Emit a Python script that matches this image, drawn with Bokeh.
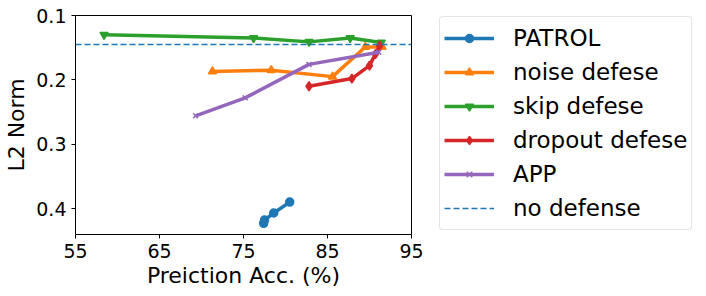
from bokeh.plotting import figure
from bokeh.models import Legend, LegendItem, FixedTicker, Range1d
from bokeh.layouts import row
from bokeh.embed import file_html
from bokeh.resources import INLINE

# Data
patrol_x = [77.4, 77.5, 78.6, 80.5]
patrol_y = [0.423, 0.418, 0.407, 0.390]

noise_x = [71.3, 78.3, 85.6, 89.5, 91.5]
noise_y = [0.187, 0.185, 0.195, 0.149, 0.149]

skip_x = [58.4, 76.2, 82.8, 87.7, 91.4]
skip_y = [0.130, 0.135, 0.141, 0.135, 0.142]

dropout_x = [82.8, 87.9, 90.0, 90.7, 91.2]
dropout_y = [0.210, 0.198, 0.178, 0.160, 0.147]

app_x = [69.3, 75.2, 82.8, 91.1]
app_y = [0.256, 0.228, 0.176, 0.157]

no_defense = 0.145

x_ticks = [55, 65, 75, 85, 95]
y_ticks = [0.1, 0.2, 0.3, 0.4]
x_min, x_max = 55, 95
y_min, y_max = 0.1, 0.4404

FONT = "DejaVu Sans"

p = figure(width=438, height=296, output_backend="svg", toolbar_location=None,
           x_range=Range1d(x_min, x_max), y_range=Range1d(y_max, y_min),
           min_border_left=75, min_border_right=27, min_border_top=15, min_border_bottom=62)
p.xgrid.visible = False
p.ygrid.visible = False
p.outline_line_color = "black"
p.outline_line_width = 1

for ax in (p.xaxis[0], p.yaxis[0]):
    ax.major_label_text_font = FONT
    ax.major_label_text_font_size = "19px"
    ax.major_label_text_color = "black"
    ax.axis_label_text_font = FONT
    ax.axis_label_text_font_size = "22px"
    ax.axis_label_text_font_style = "normal"
    ax.axis_label_text_color = "black"
    ax.major_tick_in = 0
    ax.major_tick_out = 4
    ax.minor_tick_in = 0
    ax.minor_tick_out = 0
    ax.axis_line_color = None
    ax.major_tick_line_color = "black"

p.xaxis.ticker = FixedTicker(ticks=x_ticks)
p.yaxis.ticker = FixedTicker(ticks=y_ticks)
p.xaxis.axis_label = "Preiction Acc. (%)"
p.yaxis.axis_label = "L2 Norm"
p.xaxis.major_label_standoff = 5
p.xaxis.axis_label_standoff = 2
p.yaxis.major_label_standoff = 5
p.yaxis.axis_label_standoff = 4

series = [
    ("PATROL", patrol_x, patrol_y, "#1f77b4", "circle", 8),
    ("noise defese", noise_x, noise_y, "#ff7f0e", "triangle", 8),
    ("skip defese", skip_x, skip_y, "#2ca02c", "inverted_triangle", 8),
    ("dropout defese", dropout_x, dropout_y, "#d62728", "diamond", 9),
    ("APP", app_x, app_y, "#9467bd", "x", 7),
]

for name, xs, ys, col, mk, sz in series:
    p.line(xs, ys, line_color=col, line_width=3.5)
    p.scatter(xs, ys, marker=mk, size=sz, fill_color=col, line_color=col, line_width=1.5)

p.line([x_min, x_max], [no_defense, no_defense], line_color="#1f77b4",
       line_width=1.5, line_dash="6 3")

# Legend panel: a bare figure whose ranges keep its sample glyphs out of view
lg = figure(width=268, height=296, output_backend="svg", toolbar_location=None,
            x_axis_location=None, y_axis_location=None,
            x_range=Range1d(x_max + 100, x_max + 101), y_range=Range1d(y_max, y_min),
            min_border_left=0, min_border_right=0, min_border_top=0, min_border_bottom=0)
lg.xgrid.visible = False
lg.ygrid.visible = False
lg.outline_line_color = None

items = []
for name, xs, ys, col, mk, sz in series:
    r1 = lg.line(xs, ys, line_color=col, line_width=3.5)
    r2 = lg.scatter(xs, ys, marker=mk, size=sz, fill_color=col, line_color=col, line_width=1.5)
    items.append(LegendItem(label=name, renderers=[r1, r2]))
rd = lg.line([x_min, x_max], [no_defense, no_defense], line_color="#1f77b4",
             line_width=1.5, line_dash="6 3")
items.append(LegendItem(label="no defense", renderers=[rd]))

legend = Legend(items=items, location="top_left")
legend.label_text_font = FONT
legend.label_text_font_size = "23px"
legend.label_text_color = "black"
legend.glyph_width = 50
legend.glyph_height = 20
legend.label_height = 34
legend.label_standoff = 19
legend.spacing = 0
legend.padding = 4
legend.margin = 1
legend.border_line_color = "#cccccc"
legend.border_line_width = 1
legend.background_fill_alpha = 1
if "border_radius" in Legend.properties():
    legend.border_radius = 4
lg.add_layout(legend, "center")

layout = row(p, lg, spacing=0)
open("out.html", "w").write(file_html(layout, INLINE))
